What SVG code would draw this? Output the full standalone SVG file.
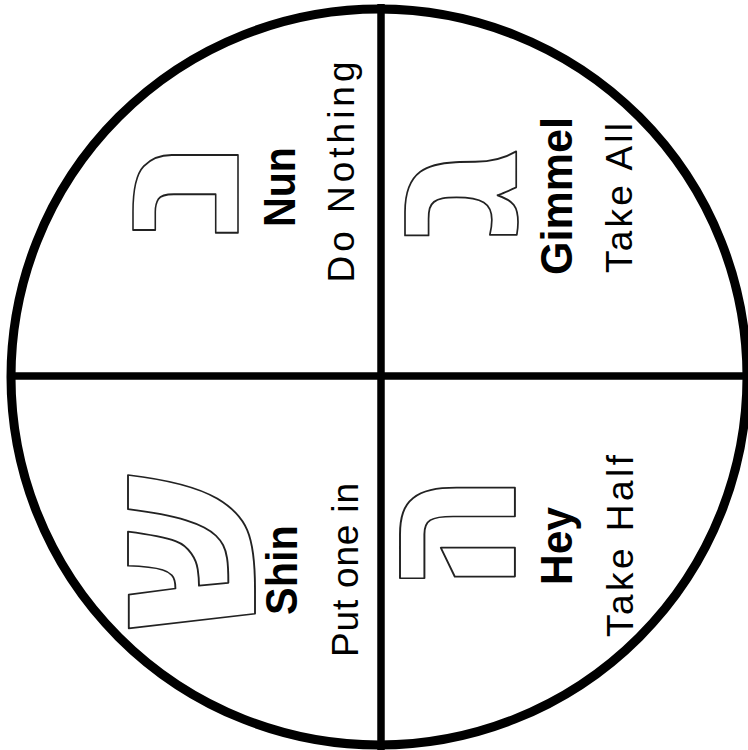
<svg xmlns="http://www.w3.org/2000/svg" width="748" height="750" viewBox="0 0 748 750">
<style>
.name{font-family:"Liberation Sans","DejaVu Sans",sans-serif;font-weight:bold;font-size:45px;fill:#000}
.act{font-family:"Liberation Sans","DejaVu Sans",sans-serif;font-size:37px;fill:#000}
.heb{font-family:"DejaVu Sans","Liberation Sans",sans-serif;font-weight:bold;font-size:140px;fill:#fff;stroke:#222;stroke-width:1.8;stroke-linejoin:round}
</style>
<rect width="748" height="750" fill="#fff"/>
<g id="wheel" fill="none" stroke="#000">
<circle cx="379" cy="377" r="368" stroke-width="9"/>
<line x1="381" y1="4" x2="381" y2="750" stroke-width="7.5"/>
<line x1="8" y1="376" x2="748" y2="376" stroke-width="7.5"/>
</g>
<g id="nun">
<text class="heb" text-anchor="middle" vector-effect="non-scaling-stroke" transform="translate(238,188) rotate(-90) scale(1.74,1.37)">נ</text>
<text class="name" text-anchor="middle" textLength="80" lengthAdjust="spacingAndGlyphs" transform="translate(295,187) rotate(-90)">Nun</text>
<text class="act" text-anchor="middle" textLength="221" lengthAdjust="spacing" transform="translate(354,172) rotate(-90)">Do Nothing</text>
</g>
<g id="gimmel">
<text class="heb" text-anchor="middle" vector-effect="non-scaling-stroke" transform="translate(516,195) rotate(-90) scale(1.6,1.45)">ג</text>
<text class="name" text-anchor="middle" textLength="158" lengthAdjust="spacingAndGlyphs" transform="translate(572,196) rotate(-90)">Gimmel</text>
<text class="act" text-anchor="middle" textLength="150" lengthAdjust="spacing" transform="translate(632,198) rotate(-90)">Take All</text>
</g>
<g id="shin">
<text class="heb" text-anchor="middle" vector-effect="non-scaling-stroke" transform="translate(255,553) rotate(-90) scale(1.5,1.66)">ש</text>
<text class="name" text-anchor="middle" textLength="90" lengthAdjust="spacingAndGlyphs" transform="translate(297,570) rotate(-90)">Shin</text>
<text class="act" text-anchor="middle" textLength="174" lengthAdjust="spacing" transform="translate(358,570) rotate(-90)">Put one in</text>
</g>
<g id="hey">
<text class="heb" text-anchor="middle" vector-effect="non-scaling-stroke" transform="translate(515,533) rotate(-90) scale(1.28,1.5)">ה</text>
<text class="name" text-anchor="middle" textLength="78" lengthAdjust="spacingAndGlyphs" transform="translate(572,546) rotate(-90)">Hey</text>
<text class="act" text-anchor="middle" textLength="182" lengthAdjust="spacing" transform="translate(633,546) rotate(-90)">Take Half</text>
</g>
</svg>
